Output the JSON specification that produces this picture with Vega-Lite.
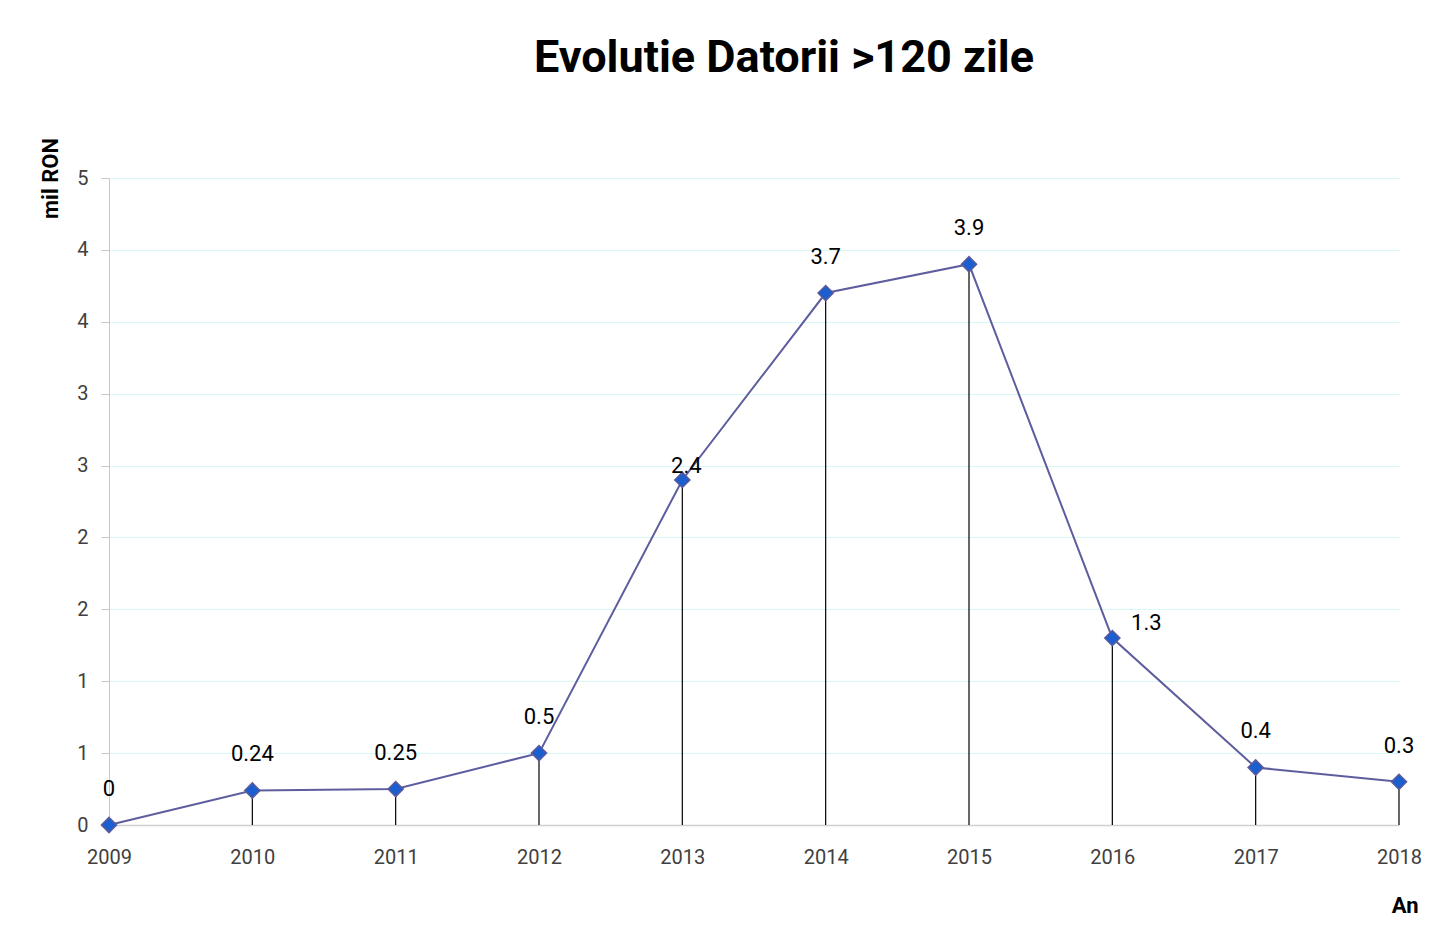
{
  "$schema": "https://vega.github.io/schema/vega-lite/v6.json",
  "autosize": "none",
  "width": 1290,
  "height": 647,
  "padding": {"left": 109, "top": 178, "right": 42, "bottom": 113},
  "background": "white",
  "title": {
    "text": "Evolutie Datorii >120 zile",
    "font": "Roboto",
    "fontSize": 45,
    "fontWeight": "bold",
    "color": "#000000",
    "anchor": "middle",
    "dx": 30,
    "baseline": "alphabetic",
    "offset": 21
  },
  "config": {
    "view": {"stroke": null},
    "font": "Roboto",
    "axis": {"labelFont": "Roboto", "titleFont": "Roboto"}
  },
  "data": {
    "values": [
      {"year": "2009", "value": 0, "label": "0"},
      {"year": "2010", "value": 0.24, "label": "0.24"},
      {"year": "2011", "value": 0.25, "label": "0.25"},
      {"year": "2012", "value": 0.5, "label": "0.5"},
      {"year": "2013", "value": 2.4, "label": "2.4"},
      {"year": "2014", "value": 3.7, "label": "3.7"},
      {"year": "2015", "value": 3.9, "label": "3.9"},
      {"year": "2016", "value": 1.3, "label": "1.3"},
      {"year": "2017", "value": 0.4, "label": "0.4"},
      {"year": "2018", "value": 0.3, "label": "0.3"}
    ]
  },
  "encoding": {
    "x": {
      "field": "year",
      "type": "ordinal",
      "scale": {"type": "point", "padding": 0},
      "axis": {
        "title": "An",
        "labelAngle": 0,
        "labelFontSize": 20,
        "labelColor": "#404040",
        "labelPadding": 22,
        "ticks": false,
        "domainColor": "#d0d0d0",
        "domainWidth": 1.5,
        "grid": false,
        "titleFontSize": 22,
        "titleFontWeight": "bold",
        "titleColor": "#000000",
        "titleX": 1309,
        "titleY": 80,
        "titleAlign": "right",
        "titleBaseline": "middle"
      }
    },
    "y": {
      "field": "value",
      "type": "quantitative",
      "scale": {"domain": [0, 4.5], "nice": false, "zero": true},
      "axis": {
        "title": "mil RON",
        "values": [0, 0.5, 1, 1.5, 2, 2.5, 3, 3.5, 4, 4.5],
        "format": ".0f",
        "labelFontSize": 20,
        "labelColor": "#404040",
        "labelPadding": 13,
        "tickSize": 8,
        "tickColor": "#c8c8c8",
        "domainColor": "#c8c8c8",
        "grid": true,
        "gridColor": "#d6f8f8",
        "gridWidth": 1.2,
        "titleFontSize": 22,
        "titleFontWeight": "bold",
        "titleColor": "#000000",
        "titleAngle": 270,
        "titleX": -59,
        "titleY": 0,
        "titleAlign": "center",
        "titleBaseline": "middle"
      }
    }
  },
  "layer": [
    {
      "mark": {"type": "rule", "color": "#000000", "strokeWidth": 1.2},
      "encoding": {"y2": {"datum": 0}}
    },
    {
      "mark": {"type": "line", "color": "#5e5e9e", "strokeWidth": 2}
    },
    {
      "mark": {"type": "point", "shape": "diamond", "size": 230, "filled": true, "fill": "#1a5ed0", "stroke": "#5b5b9b", "strokeWidth": 1.5, "opacity": 1}
    },
    {
      "transform": [{"filter": "datum.year != '2013' && datum.year != '2016'"}],
      "mark": {"type": "text", "dy": -36, "fontSize": 22, "color": "#000000", "baseline": "middle", "align": "center"},
      "encoding": {"text": {"field": "label"}}
    },
    {
      "transform": [{"filter": "datum.year == '2013'"}],
      "mark": {"type": "text", "dx": 4, "dy": -14, "fontSize": 22, "color": "#000000", "baseline": "middle", "align": "center"},
      "encoding": {"text": {"field": "label"}}
    },
    {
      "transform": [{"filter": "datum.year == '2016'"}],
      "mark": {"type": "text", "dx": 34, "dy": -15, "fontSize": 22, "color": "#000000", "baseline": "middle", "align": "center"},
      "encoding": {"text": {"field": "label"}}
    }
  ]
}
